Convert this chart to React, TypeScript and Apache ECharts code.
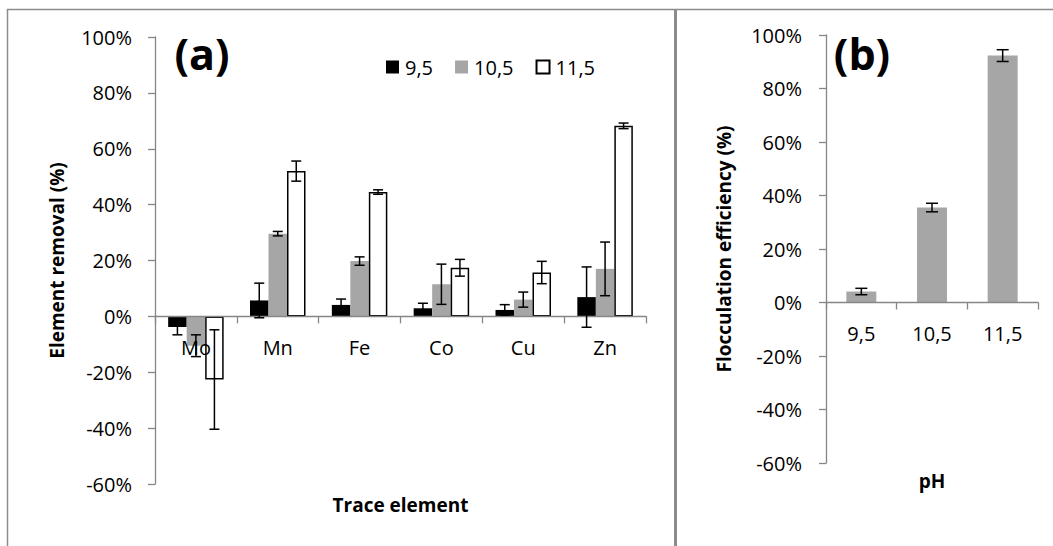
import React, { useEffect, useRef } from "react";
import * as echarts from "echarts";

// ---- data ----
const elements = ["Mo", "Mn", "Fe", "Co", "Cu", "Zn"];
const seriesNames = ["9,5", "10,5", "11,5"];
const removal95 = [-3.8, 5.7, 4.1, 2.9, 2.3, 6.9];
const removal95Err = [2.8, 6.2, 2.1, 1.8, 1.9, 10.8];
const removal105 = [-10.5, 29.6, 19.8, 11.5, 6.0, 17.0];
const removal105Err = [3.9, 0.8, 1.5, 7.2, 2.7, 9.6];
const removal115 = [-22.6, 52.0, 44.5, 17.4, 15.7, 68.2];
const removal115Err = [17.8, 3.6, 0.8, 3.0, 4.0, 1.0];

const phLevels = ["9,5", "10,5", "11,5"];
const flocEff = [4.1, 35.5, 92.3];
const flocErr = [1.2, 1.6, 2.2];

const yTicksMin = -60;
const yTicksMax = 100;
const yTickStep = 20;

const FONT = "Open Sans";
const GRAY = "#a6a6a6";
const AXIS = "#868686";

function errorSeries(
  xAxisIndex: number,
  yAxisIndex: number,
  values: number[],
  errs: number[],
  offset: number,
  cap: number
) {
  return {
    type: "custom",
    xAxisIndex,
    yAxisIndex,
    silent: true,
    z: 10,
    encode: { x: 0, y: 1 },
    data: values.map((v, i) => [i, v, errs[i]]),
    renderItem: (params: any, api: any) => {
      const ci = api.value(0);
      const v = api.value(1);
      const e = api.value(2);
      const top = api.coord([ci, v + e]);
      const bot = api.coord([ci, v - e]);
      const x = top[0] + offset;
      const style = { stroke: "#000", lineWidth: 1.5 };
      return {
        type: "group",
        children: [
          { type: "line", shape: { x1: x, y1: top[1], x2: x, y2: bot[1] }, style },
          { type: "line", shape: { x1: x - cap / 2, y1: top[1], x2: x + cap / 2, y2: top[1] }, style },
          { type: "line", shape: { x1: x - cap / 2, y1: bot[1], x2: x + cap / 2, y2: bot[1] }, style },
        ],
      };
    },
  };
}

export default function App() {
  const ref = useRef<HTMLDivElement>(null);
  useEffect(() => {
    if (!ref.current) return;
    const chart = echarts.init(ref.current, null, { renderer: "svg" });
    const BW = 18.5;
    const axisLabel = { color: "#000", fontFamily: FONT, fontSize: 20 };
    const yAxisCommon = {
      type: "value",
      min: yTicksMin,
      max: yTicksMax,
      interval: yTickStep,
      splitLine: { show: false },
      axisLine: { show: true, lineStyle: { color: AXIS, width: 1.3 } },
      axisTick: { show: true, length: 7, lineStyle: { color: AXIS, width: 1.3 } },
      axisLabel: { ...axisLabel, margin: 23, formatter: "{value}%" },
      nameLocation: "middle",
      nameRotate: 90,
      nameMoveOverlap: false,
      nameTextStyle: { color: "#000", fontFamily: FONT, fontSize: 19, fontWeight: "bold" },
    };
    const xAxisCommon = {
      type: "category",
      z: 3,
      axisLine: { show: true, onZero: true, lineStyle: { color: AXIS, width: 1.3 } },
      axisTick: { show: true, length: 7, interval: 0, lineStyle: { color: AXIS, width: 1.3 } },
      nameLocation: "middle",
      nameMoveOverlap: false,
      nameTextStyle: { color: "#000", fontFamily: FONT, fontSize: 19, fontWeight: "bold" },
    };
    const colors = ["#000000", GRAY, "#ffffff"];
    const leftVals = [removal95, removal105, removal115];
    const leftErrs = [removal95Err, removal105Err, removal115Err];
    const option: any = {
      animation: false,
      backgroundColor: "#fff",
      textStyle: { fontFamily: FONT },
      grid: [
        { left: 155, right: 1053 - 646, top: 37, bottom: 546 - 484, outerBoundsMode: "none", containLabel: false },
        { left: 826, right: 1053 - 1038, top: 35, bottom: 546 - 463, outerBoundsMode: "none", containLabel: false },
      ],
      legend: {
        left: 381,
        top: 52,
        itemWidth: 13,
        itemHeight: 13,
        itemGap: 22,
        icon: "rect",
        textStyle: { color: "#000", fontFamily: FONT, fontSize: 20, padding: [0, 0, 0, 1] },
        data: seriesNames,
      },
      xAxis: [
        {
          ...xAxisCommon,
          gridIndex: 0,
          data: elements,
          name: "Trace element",
          nameGap: 11,
          axisLabel: { ...axisLabel, interval: 0, margin: 21 - 168 },
        },
        {
          ...xAxisCommon,
          gridIndex: 1,
          data: phLevels,
          name: "pH",
          nameGap: 8,
          axisLabel: { ...axisLabel, interval: 0, margin: 20 - 160 },
        },
      ],
      yAxis: [
        { ...yAxisCommon, gridIndex: 0, name: "Element removal (%)", nameGap: 89 },
        { ...yAxisCommon, gridIndex: 1, name: "Flocculation efficiency (%)", nameGap: 93, axisLabel: { ...axisLabel, margin: 24, formatter: "{value}%" } },
      ],
      graphic: [
        { type: "line", shape: { x1: 7, y1: 9.5, x2: 1053, y2: 9.5 }, style: { stroke: "#8c8c8c", lineWidth: 1.5 } },
        { type: "line", shape: { x1: 7.5, y1: 9, x2: 7.5, y2: 546 }, style: { stroke: "#8c8c8c", lineWidth: 1.5 } },
        { type: "line", shape: { x1: 675.5, y1: 9, x2: 675.5, y2: 546 }, style: { stroke: "#8c8c8c", lineWidth: 3 } },
        { type: "text", x: 202, y: 53, style: { text: "(a)", fontFamily: FONT, fontSize: 43, fontWeight: "bold", fill: "#000", align: "center", verticalAlign: "middle" } },
        { type: "text", x: 862, y: 53, style: { text: "(b)", fontFamily: FONT, fontSize: 43, fontWeight: "bold", fill: "#000", align: "center", verticalAlign: "middle" } },
      ],
      series: [
        ...leftVals.map((vals, si) => ({
          type: "bar",
          name: seriesNames[si],
          xAxisIndex: 0,
          yAxisIndex: 0,
          barWidth: BW,
          barGap: "0%",
          data: vals,
          itemStyle: {
            color: colors[si],
            borderColor: si === 2 ? "#000" : colors[si],
            borderWidth: si === 2 ? 1.5 : 0,
          },
        })),
        ...leftVals.map((vals, si) => errorSeries(0, 0, vals, leftErrs[si], (si - 1) * BW, 10)),
        {
          type: "bar",
          name: "pH",
          xAxisIndex: 1,
          yAxisIndex: 1,
          barWidth: 30,
          data: flocEff,
          itemStyle: { color: GRAY },
        },
        errorSeries(1, 1, flocEff, flocErr, 0, 12),
      ],
    };
    chart.setOption(option);
    return () => chart.dispose();
  }, []);
  return (
    <div
      ref={ref}
      style={{ position: "absolute", left: 0, top: 0, width: 1053, height: 546 }}
    />
  );
}
